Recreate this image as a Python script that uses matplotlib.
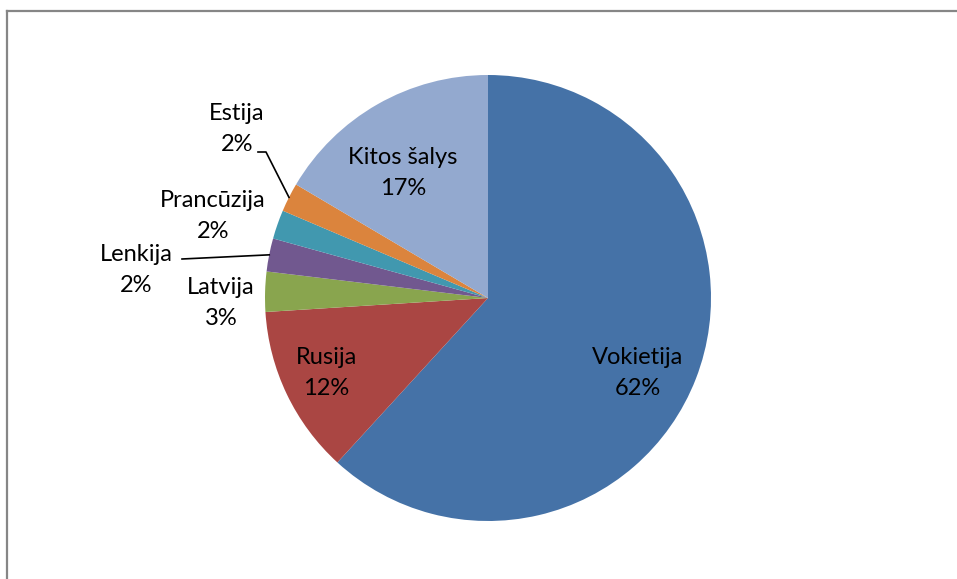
import matplotlib
matplotlib.use("Agg")
import matplotlib.pyplot as plt
import numpy as np

# export shares by country
countries = ["Vokietija", "Rusija", "Latvija", "Lenkija", "Prancūzija", "Estija", "Kitos šalys"]
shares = [61.8, 12.2, 2.9, 2.4, 2.1, 2.1, 16.5]
pct_labels = ["62%", "12%", "3%", "2%", "2%", "2%", "17%"]
colors = ["#4572A7", "#AA4643", "#89A54E", "#71588F", "#4198AF", "#DB843D", "#93A9CF"]

W, H = 957, 579
cx, cy, r = 488, 298, 223   # pie centre and radius in pixels

plt.rcParams['font.family'] = ['Lato', 'DejaVu Sans']

fig = plt.figure(figsize=(W / 100, H / 100), dpi=100)
fig.patch.set_facecolor('white')

# chart frame (only top and left edges visible in the crop)
fig.add_artist(plt.Line2D([7.5 / W, 7.5 / W], [0, 1 - 10.5 / H], color='#868686', lw=1.6))
fig.add_artist(plt.Line2D([7.5 / W, 1], [1 - 10.5 / H, 1 - 10.5 / H], color='#868686', lw=1.6))

ax = fig.add_axes([(cx - r) / W, (H - cy - r) / H, 2 * r / W, 2 * r / H])
wedges, _ = ax.pie(shares, colors=colors, startangle=90, counterclock=False, radius=1.0,
                   wedgeprops=dict(linewidth=0))
ax.set_xlim(-1, 1)
ax.set_ylim(-1, 1)
ax.set_aspect('equal')
ax.axis('off')
ax.patch.set_alpha(0)


def px(x, y):
    return (x - cx) / r, (cy - y) / r


# label centres in pixels
label_pos = {
    "Vokietija": (638, 373),
    "Rusija": (326, 373),
    "Latvija": (221, 303),
    "Lenkija": (136, 270),
    "Prancūzija": (213, 216),
    "Estija": (237, 129),
    "Kitos šalys": (403, 173),
}

for name, pct in zip(countries, pct_labels):
    x, y = px(*label_pos[name])
    ax.text(x, y, f"{name}\n{pct}", ha='center', va='center', fontsize=17,
            linespacing=1.55, color='black', clip_on=False)


def wedge_mid(w):
    ang = np.deg2rad((w.theta1 + w.theta2) / 2)
    return np.cos(ang), np.sin(ang)

# leader lines for the small slices
ex, ey = wedge_mid(wedges[countries.index("Estija")])
x0, y0 = px(258, 152)
x1, y1 = px(266, 152)
ax.plot([x0, x1, ex], [y0, y1, ey], color='black', lw=1.2, clip_on=False)

lx, ly = wedge_mid(wedges[countries.index("Lenkija")])
x0, y0 = px(182, 259)
ax.plot([x0, lx], [y0, ly], color='black', lw=1.2, clip_on=False)

fig.savefig("out.png", dpi=100, facecolor='white')
